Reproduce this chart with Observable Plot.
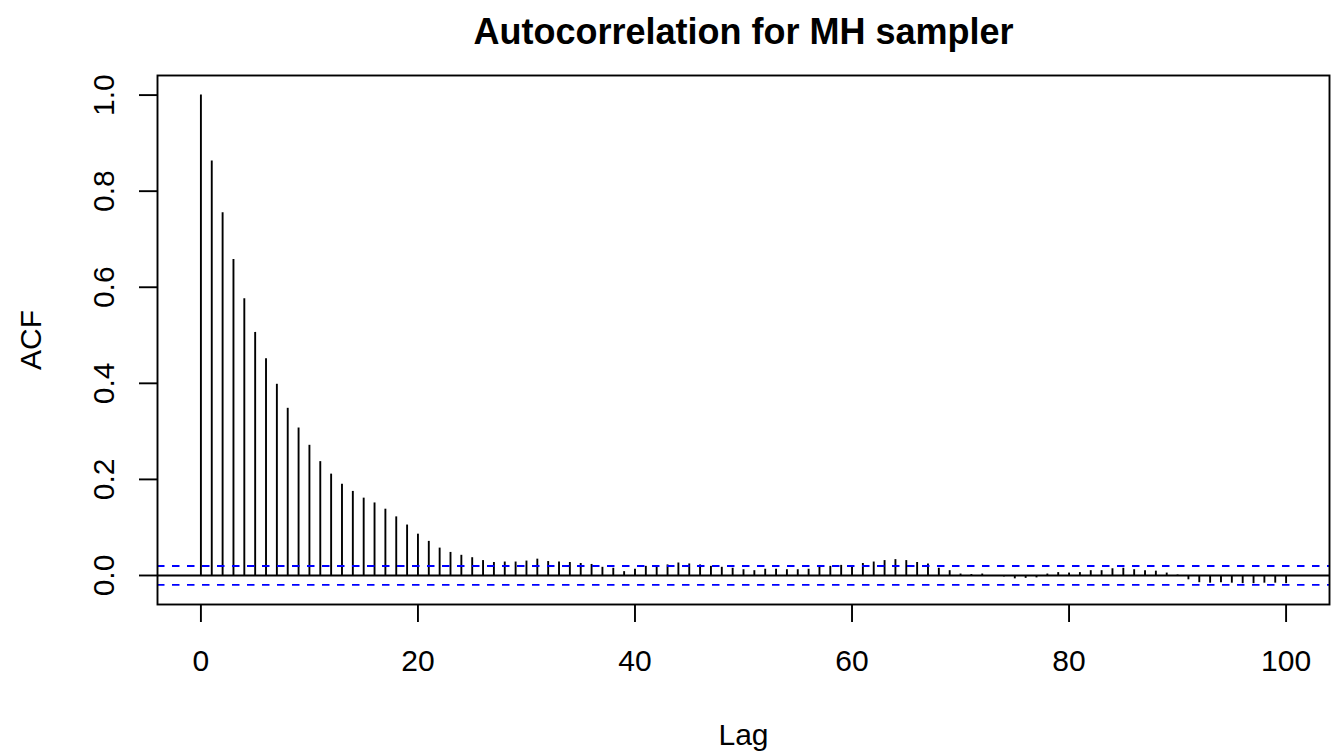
<!DOCTYPE html>
<html>
<head>
<meta charset="utf-8">
<script src="https://cdn.jsdelivr.net/npm/d3@7"></script>
<script src="https://cdn.jsdelivr.net/npm/@observablehq/plot@0.6"></script>
<style>
  html, body { margin: 0; padding: 0; background: #fff; }
</style>
</head>
<body>
<div id="chart"></div>
<script>
// ACF values for lags 0..100
const acfValues = [
  1.000, 0.863, 0.755, 0.658, 0.576, 0.506, 0.451, 0.398, 0.348, 0.307,
  0.271, 0.237, 0.211, 0.190, 0.175, 0.161, 0.151, 0.138, 0.122, 0.105,
  0.086, 0.071, 0.057, 0.048, 0.042, 0.037, 0.031, 0.027, 0.028, 0.028,
  0.030, 0.034, 0.029, 0.028, 0.027, 0.025, 0.023, 0.017, 0.015, 0.008,
  0.013, 0.019, 0.020, 0.022, 0.026, 0.024, 0.022, 0.019, 0.017, 0.015,
  0.012, 0.010, 0.013, 0.013, 0.012, 0.012, 0.013, 0.017, 0.019, 0.021,
  0.020, 0.025, 0.028, 0.031, 0.033, 0.031, 0.027, 0.024, 0.015, 0.010,
  0.003, 0.002, 0.003, -0.002, -0.003, -0.007, -0.006, -0.005, 0.003, 0.006,
  0.005, 0.006, 0.010, 0.010, 0.014, 0.015, 0.012, 0.010, 0.009, 0.005,
  0.001, -0.009, -0.015, -0.016, -0.015, -0.016, -0.017, -0.017, -0.016, -0.016,
  -0.017
];
const ciBounds = [0.0196, -0.0196];
const xTicks = [0, 20, 40, 60, 80, 100];
const yTicks = [0.0, 0.2, 0.4, 0.6, 0.8, 1.0];
const yTickLabels = ["0.0", "0.2", "0.4", "0.6", "0.8", "1.0"];
const titleText = "Autocorrelation for MH sampler";
const xLabel = "Lag";
const yLabel = "ACF";

const table = acfValues.map((v, i) => ({lag: i, acf: v}));
const yLabelRows = yTicks.map((v, i) => ({v, t: yTickLabels[i]}));

const font = "'Liberation Sans', Arial, Helvetica, sans-serif";
const lw = 1.9;

const chart = Plot.plot({
  width: 1331,
  height: 756,
  marginLeft: 157,
  marginRight: 2,
  marginTop: 75,
  marginBottom: 152,
  style: {fontFamily: font, fontSize: "30px", background: "#fff", color: "#000"},
  x: {domain: [-4, 104], axis: null},
  y: {domain: [-0.0604, 1.0408], axis: null},
  marks: [
    // ACF spikes
    Plot.ruleX(table, {x: "lag", y1: 0, y2: "acf", stroke: "#000", strokeWidth: lw}),
    // zero line
    Plot.ruleY([0], {stroke: "#000", strokeWidth: lw}),
    // confidence bounds
    Plot.ruleY(ciBounds, {stroke: "#0000ff", strokeWidth: lw, strokeDasharray: "7.5,7.5"}),
    // frame
    Plot.frame({stroke: "#000", strokeWidth: lw}),
    // x axis ticks and labels
    Plot.axisX({ticks: xTicks, tickSize: 18, tickFormat: () => "", label: null, strokeWidth: lw}),
    Plot.text(xTicks, {x: d => d, frameAnchor: "bottom", dy: 66, lineAnchor: "bottom", text: d => String(d), fontSize: 30}),
    // y axis ticks and labels
    Plot.axisY({ticks: yTicks, tickSize: 18, tickFormat: () => "", label: null, strokeWidth: lw}),
    Plot.text(yLabelRows, {y: "v", text: "t", frameAnchor: "left", dx: -44, rotate: -90, textAnchor: "middle", lineAnchor: "bottom", fontSize: 30}),
    // axis titles
    Plot.text([xLabel], {frameAnchor: "bottom", dy: 140, lineAnchor: "bottom", fontSize: 30}),
    Plot.text([yLabel], {frameAnchor: "left", dx: -117, rotate: -90, lineAnchor: "bottom", textAnchor: "middle", fontSize: 30}),
    // main title
    Plot.text([titleText], {frameAnchor: "top", dy: -32, lineAnchor: "bottom", fontSize: 36, fontWeight: "bold"})
  ]
});

document.getElementById("chart").appendChild(chart);
</script>
</body>
</html>
